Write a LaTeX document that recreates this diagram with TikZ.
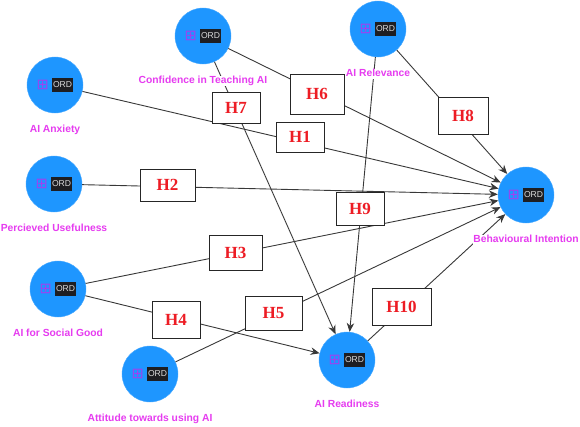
\documentclass[tikz,border=0pt]{standalone}
\usepackage{fontspec}
\usepackage{xcolor}
\usepackage{tikz}
\usetikzlibrary{arrows.meta,positioning}
\setmainfont{Liberation Serif}
\setsansfont{Liberation Sans}
\newfontfamily\iconfont{DejaVu Sans}
\definecolor{conblue}{HTML}{1E96FF}
\definecolor{conpink}{HTML}{E63CF0}
\definecolor{hypred}{HTML}{ED1C24}
\definecolor{iconpurple}{HTML}{A040F0}
\definecolor{ordblack}{HTML}{1E1E22}
\newcommand{\ordmark}{%
  \raisebox{-1.6pt}{\iconfont\fontsize{14.5}{14.5}\selectfont\textcolor{iconpurple}{⊞}}\hspace{3pt}%
  {\setlength{\fboxsep}{1.2pt}\colorbox{ordblack}{\rule[-2.9pt]{0pt}{11.6pt}\textcolor{white!85!black}{ORD}}}}
\tikzset{
  construct/.style={circle, fill=conblue, draw=conblue!80!white, line width=0.4pt, minimum size=56pt,
    inner sep=0pt, font=\sffamily\fontsize{8.6}{10}\selectfont},
  conlabel/.style={fill=white, inner xsep=0.5pt, inner ysep=0.5pt, text=conpink, text height=7pt, text depth=2pt,
    font=\sffamily\bfseries\fontsize{10.3}{12}\selectfont},
  hyp/.style={rectangle, draw=black!85, fill=white, line width=0.9pt, inner sep=0pt, text=hypred,
    font=\bfseries\fontsize{17}{20}\selectfont},
  arr/.style={-{Stealth[length=9pt,width=7.5pt]}, draw=black!78, line width=0.9pt},
}
\begin{document}
\begin{tikzpicture}[x=1pt,y=-1pt]
  \useasboundingbox (0,0) rectangle (580,426);
  % constructs
  \node[construct] (anx) at (55,85) {\ordmark};
  \node[construct] (conf) at (203,36) {\ordmark};
  \node[construct] (rel) at (378,29) {\ordmark};
  \node[construct] (use) at (54,184) {\ordmark};
  \node[construct] (good) at (58,289) {\ordmark};
  \node[construct] (att) at (150,374) {\ordmark};
  \node[construct] (ready) at (347,360) {\ordmark};
  \node[construct] (bi) at (526,195) {\ordmark};
  % paths
  \draw[arr] (anx) -- (bi);
  \draw[arr] (conf) -- (bi);
  \draw[arr] (rel) -- (bi);
  \draw[arr] (use) -- (bi);
  \draw[arr] (good) -- (bi);
  \draw[arr] (att) -- (bi);
  \draw[arr] (ready) -- (bi);
  \draw[arr] (good) -- (ready);
  \draw[arr] (conf) -- (ready);
  \draw[arr] (rel) -- (ready);
  % hypothesis boxes
  \node[hyp, minimum width=48pt, minimum height=31pt] (h7) at (236,107.5) {H7};
  \node[hyp, minimum width=54pt, minimum height=40pt] (h6) at (317,94) {H6};
  \node[hyp, minimum width=48pt, minimum height=30pt] (h1) at (300,137) {H1};
  \node[hyp, minimum width=50pt, minimum height=37pt] (h8) at (463,115.5) {H8};
  \node[hyp, minimum width=55pt, minimum height=32pt] (h2) at (167.5,185) {H2};
  \node[hyp, minimum width=48pt, minimum height=33pt] (h9) at (360,208.5) {H9};
  \node[hyp, minimum width=53pt, minimum height=35pt] (h3) at (235.5,252.5) {H3};
  \node[hyp, minimum width=57pt, minimum height=34pt] (h5) at (273.5,313) {H5};
  \node[hyp, minimum width=48pt, minimum height=37pt] (h4) at (176,319.5) {H4};
  \node[hyp, minimum width=59pt, minimum height=37pt] (h10) at (401.5,306.5) {H10};
  % names
  \node[conlabel, below=11.5pt of anx] (anxname) {AI Anxiety};
  \node[conlabel, below=11.5pt of conf] (confname) {Confidence in Teaching AI};
  \node[conlabel, below=11.5pt of rel] (relname) {AI Relevance};
  \node[conlabel, below=11.5pt of use] (usename) {Percieved Usefulness};
  \node[conlabel, below=11.5pt of good] (goodname) {AI for Social Good};
  \node[conlabel, below=11.5pt of att] (attname) {Attitude towards using AI};
  \node[conlabel, below=11.5pt of ready] (readyname) {AI Readiness};
  \node[conlabel, below=11.5pt of bi] (biname) {Behavioural Intention};
\end{tikzpicture}
\end{document}
